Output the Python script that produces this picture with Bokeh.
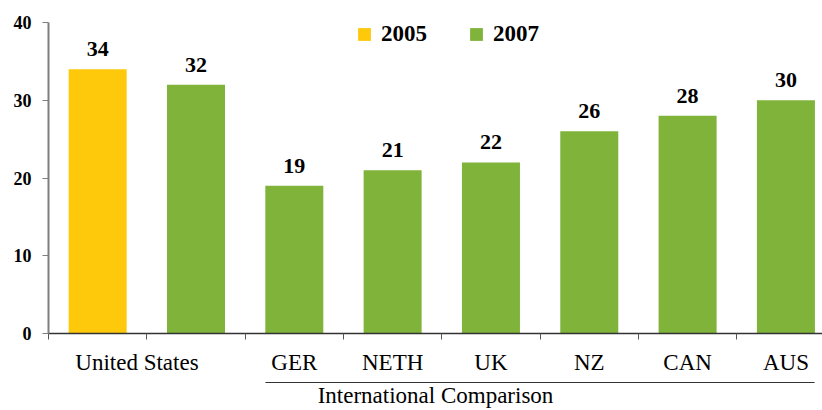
from bokeh.plotting import figure
from bokeh.models import (Range1d, LinearAxis, FixedTicker, Legend, LegendItem,
                          ColumnDataSource)
from bokeh.embed import file_html
from bokeh.resources import INLINE
from bokeh.core.properties import value

# ---- data ----
categories = ["US 2005", "US 2007", "GER", "NETH", "UK", "NZ", "CAN", "AUS"]
years = ["2005", "2007", "2007", "2007", "2007", "2007", "2007", "2007"]
values = [34, 32, 19, 21, 22, 26, 28, 30]
tick_labels = ["United States", "GER", "NETH", "UK", "NZ", "CAN", "AUS"]
group_title = "International Comparison"
y_ticks = [0, 10, 20, 30, 40]

YELLOW = "#FEC80B"
GREEN = "#80B33A"
FONT = "Liberation Serif"

xs = [i + 0.5 for i in range(len(categories))]

p = figure(frame_width=774, frame_height=311, output_backend="svg", toolbar_location=None,
           x_range=Range1d(0, 7.872), y_range=Range1d(0, 40),
           min_border_left=48, min_border_right=0, min_border_top=22,
           min_border_bottom=0, x_axis_location=None, y_axis_location=None)
p.outline_line_color = None
p.xgrid.visible = False
p.ygrid.visible = False
p.background_fill_color = "white"
p.border_fill_color = "white"

renderers = {}
for yr in ["2005", "2007"]:
    idx = [i for i, y in enumerate(years) if y == yr]
    src = ColumnDataSource(dict(x=[xs[i] for i in idx], top=[values[i] for i in idx]))
    r = p.vbar(x="x", top="top", width=0.59, bottom=0, source=src,
               fill_color=YELLOW if yr == "2005" else GREEN, line_color=None)
    renderers[yr] = r

lbl_src = ColumnDataSource(dict(x=xs, y=values, t=[str(v) for v in values]))
p.text(x="x", y="y", text="t", source=lbl_src, text_align="center",
       text_baseline="bottom", y_offset=-13, text_font=value(FONT),
       text_font_style="bold", text_font_size="22px", text_color="black")

# y axis
yax = LinearAxis(ticker=FixedTicker(ticks=y_ticks))
yax.axis_line_color = "#7f7f7f"
yax.axis_line_width = 2
yax.major_tick_line_color = "#7f7f7f"
yax.major_tick_out = 6
yax.major_tick_in = 0
yax.minor_tick_line_color = None
yax.major_label_standoff = 11
yax.major_label_text_font = FONT
yax.major_label_text_font_style = "bold"
yax.major_label_text_font_size = "18px"
yax.major_label_text_color = "black"
p.add_layout(yax, "left")

# x axis with category labels
label_pos = [0.9, 2.5, 3.5, 4.5, 5.5, 6.5, 7.5]
xax = LinearAxis(ticker=FixedTicker(ticks=label_pos, minor_ticks=list(range(8))))
xax.major_label_overrides = {pos: t for pos, t in zip(label_pos, tick_labels)}
xax.axis_line_color = "#333333"
xax.axis_line_width = 1.5
xax.major_tick_line_color = None
xax.major_tick_out = 0
xax.major_tick_in = 0
xax.minor_tick_line_color = "#555555"
xax.minor_tick_out = 6
xax.minor_tick_in = 0
xax.major_label_standoff = 10
xax.major_label_text_font = FONT
xax.major_label_text_font_size = "23px"
xax.major_label_text_color = "black"
xax.axis_label = " "
xax.axis_label_text_font_size = "2px"
xax.axis_label_standoff = 0
p.add_layout(xax, "below")

# group axis (underline + title)
gax = LinearAxis(ticker=FixedTicker(ticks=[]), bounds=(2.21, 7.79))
gax.axis_line_color = "#333333"
gax.axis_line_width = 1.2
gax.major_label_text_font_size = "0px"
gax.major_tick_line_color = None
gax.minor_tick_line_color = None
gax.axis_label = group_title
gax.axis_label_standoff = 0
gax.axis_label_text_font = FONT
gax.axis_label_text_font_style = "normal"
gax.axis_label_text_font_size = "23px"
gax.axis_label_text_color = "black"
p.add_layout(gax, "below")

legend = Legend(items=[LegendItem(label=yr, renderers=[renderers[yr]]) for yr in ["2005", "2007"]],
                orientation="horizontal", location=(308, 286))
legend.glyph_width = 16
legend.glyph_height = 16
legend.label_height = 16
legend.label_standoff = 9
legend.spacing = 41
legend.padding = 0
legend.margin = 0
legend.border_line_color = None
legend.background_fill_alpha = 0
legend.label_text_font = FONT
legend.label_text_font_style = "bold"
legend.label_text_font_size = "23px"
legend.label_text_color = "black"
legend.label_text_baseline = "middle"
p.add_layout(legend, "center")

open("out.html", "w").write(file_html(p, INLINE))
